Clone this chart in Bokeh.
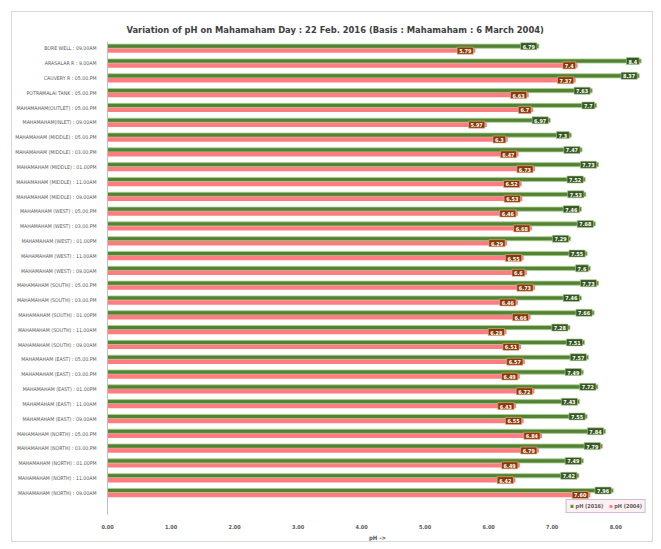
from bokeh.plotting import figure
from bokeh.models import (ColumnDataSource, Range1d, FixedTicker, PrintfTickFormatter,
                          Legend, LegendItem)
from bokeh.core.properties import value
from bokeh.transform import dodge
from bokeh.embed import file_html
from bokeh.resources import INLINE

categories = [
    "BORE WELL : 09.00AM",
    "ARASALAR R : 9.00AM",
    "CAUVERY R : 05.00.PM",
    "POTRAMALAI TANK : 05.00.PM",
    "MAHAMAHAM(OUTLET) : 05.00.PM",
    "MAHAMAHAM(INLET) : 09.00AM",
    "MAHAMAHAM (MIDDLE) : 05.00.PM",
    "MAHAMAHAM (MIDDLE) : 03.00.PM",
    "MAHAMAHAM (MIDDLE) : 01.00PM",
    "MAHAMAHAM (MIDDLE) : 11.00AM",
    "MAHAMAHAM (MIDDLE) : 09.00AM",
    "MAHAMAHAM (WEST) : 05.00.PM",
    "MAHAMAHAM (WEST) : 03.00.PM",
    "MAHAMAHAM (WEST) : 01.00PM",
    "MAHAMAHAM (WEST) : 11.00AM",
    "MAHAMAHAM (WEST) : 09.00AM",
    "MAHAMAHAM (SOUTH) : 05.00.PM",
    "MAHAMAHAM (SOUTH) : 03.00.PM",
    "MAHAMAHAM (SOUTH) : 01.00PM",
    "MAHAMAHAM (SOUTH) : 11.00AM",
    "MAHAMAHAM (SOUTH) : 09.00AM",
    "MAHAMAHAM (EAST) : 05.00.PM",
    "MAHAMAHAM (EAST) : 03.00.PM",
    "MAHAMAHAM (EAST) : 01.00PM",
    "MAHAMAHAM (EAST) : 11.00AM",
    "MAHAMAHAM (EAST) : 09.00AM",
    "MAHAMAHAM (NORTH) : 05.00.PM",
    "MAHAMAHAM (NORTH) : 03.00.PM",
    "MAHAMAHAM (NORTH) : 01.00PM",
    "MAHAMAHAM (NORTH) : 11.00AM",
    "MAHAMAHAM (NORTH) : 09.00AM",
]

ph_2016 = [6.79, 8.4, 8.37, 7.63, 7.7, 6.97, 7.3, 7.47, 7.73, 7.52, 7.53,
           7.46, 7.68, 7.29, 7.55, 7.6, 7.73, 7.46, 7.66, 7.28, 7.51,
           7.57, 7.49, 7.72, 7.43, 7.55, 7.84, 7.79, 7.49, 7.42, 7.96]
ph_2004 = [5.79, 7.4, 7.37, 6.63, 6.7, 5.97, 6.3, 6.47, 6.73, 6.52, 6.53,
           6.46, 6.68, 6.29, 6.55, 6.6, 6.73, 6.46, 6.66, 6.28, 6.51,
           6.57, 6.49, 6.72, 6.43, 6.55, 6.84, 6.79, 6.49, 6.42, 7.60]
labels_2016 = ["6.79", "8.4", "8.37", "7.63", "7.7", "6.97", "7.3", "7.47", "7.73", "7.52", "7.53",
               "7.46", "7.68", "7.29", "7.55", "7.6", "7.73", "7.46", "7.66", "7.28", "7.51",
               "7.57", "7.49", "7.72", "7.43", "7.55", "7.84", "7.79", "7.49", "7.42", "7.96"]
labels_2004 = ["5.79", "7.4", "7.37", "6.63", "6.7", "5.97", "6.3", "6.47", "6.73", "6.52", "6.53",
               "6.46", "6.68", "6.29", "6.55", "6.6", "6.73", "6.46", "6.66", "6.28", "6.51",
               "6.57", "6.49", "6.72", "6.43", "6.55", "6.84", "6.79", "6.49", "6.42", "7.60"]
x_ticks = [0, 1, 2, 3, 4, 5, 6, 7, 8]

FONT = "DejaVu Sans Condensed"
GREEN = "#548235"
PINK = "#ff7c80"

n = len(categories)
rows = [n - 1 - i for i in range(n)]  # first category on top

src = ColumnDataSource(dict(row=rows, cat=categories, v16=ph_2016, v04=ph_2004,
                            l16=labels_2016, l04=labels_2004))

p = figure(width=642, height=531, output_backend="svg", toolbar_location=None,
           y_range=Range1d(-1.467, n - 1 + 0.467), x_range=Range1d(0, 8.5),
           min_border_left=95, min_border_right=7, min_border_top=29, min_border_bottom=23)
p.margin = (11, 0, 0, 11)
p.styles = {"border": "1px solid #d9d9d9"}
p.outline_line_color = None
p.xgrid.visible = False
p.ygrid.visible = False

p.title.text = "Variation of pH on Mahamaham Day : 22 Feb. 2016 (Basis :  Mahamaham : 6 March 2004)"
p.title.align = "left"
p.title.offset = 19
p.title.text_font = FONT
p.title.text_font_size = "9.3px"
p.title.text_font_style = "bold"
p.title.text_color = "#404040"
p.title.standoff = 14

g16 = p.hbar(y=dodge("row", 0.15), right="v16", left=0, height=0.28,
             source=src, fill_color=GREEN, line_color="#a9d18e", line_width=0.8)
g04 = p.hbar(y=dodge("row", -0.15), right="v04", left=0, height=0.3,
             source=src, fill_color=PINK, line_color=None)

p.text(x="v16", y=dodge("row", 0.15), text="l16", source=src,
       text_align="right", text_baseline="middle", x_offset=-2, padding=(2, 1),
       text_font=value(FONT), text_font_size="5.5px", text_font_style="bold", text_color="white",
       background_fill_color="#375623", border_line_color="#a9d18e", border_line_width=0.6)
p.text(x="v04", y=dodge("row", -0.15), text="l04", source=src,
       text_align="right", text_baseline="middle", x_offset=-2, padding=(2, 1),
       text_font=value(FONT), text_font_size="5.5px", text_font_style="bold", text_color="white",
       background_fill_color="#843c0c", border_line_color="#f4b183", border_line_width=0.6)

p.yaxis.ticker = FixedTicker(ticks=rows)
p.yaxis.major_label_overrides = {r: c for r, c in zip(rows, categories)}
p.yaxis.major_label_text_font = FONT
p.yaxis.major_label_text_font_size = "5.2px"
p.yaxis.major_label_text_color = "#595959"
p.yaxis.major_tick_line_color = None
p.yaxis.minor_tick_line_color = None
p.yaxis.axis_line_color = "#bfbfbf"
p.yaxis.major_label_standoff = 5

p.xaxis.ticker = FixedTicker(ticks=x_ticks)
p.xaxis.formatter = PrintfTickFormatter(format="%.2f")
p.xaxis.major_label_text_font = FONT
p.xaxis.major_label_text_font_size = "5.5px"
p.xaxis.major_label_text_color = "#595959"
p.xaxis.major_label_text_font_style = "bold"
p.xaxis.axis_line_color = None
p.xaxis.major_tick_line_color = None
p.xaxis.minor_tick_line_color = None
p.xaxis.major_label_standoff = 3
p.xaxis.axis_label = "pH ->"
p.xaxis.axis_label_text_font = FONT
p.xaxis.axis_label_text_font_size = "6px"
p.xaxis.axis_label_text_font_style = "bold"
p.xaxis.axis_label_text_color = "#595959"
p.xaxis.axis_label_standoff = 2

legend = Legend(items=[LegendItem(label="pH (2016)", renderers=[g16]),
                       LegendItem(label="pH (2004)", renderers=[g04])],
                orientation="horizontal", location="bottom_right",
                label_text_font=FONT, label_text_font_size="5.5px", label_text_font_style="bold",
                label_text_color="#595959", glyph_width=4, glyph_height=4, label_standoff=2,
                spacing=5, padding=3, margin=1, label_height=6,
                border_line_color="#a68bc1", background_fill_color="#fdf0f2", background_fill_alpha=1)
p.add_layout(legend)

open("out.html", "w").write(file_html(p, INLINE))
